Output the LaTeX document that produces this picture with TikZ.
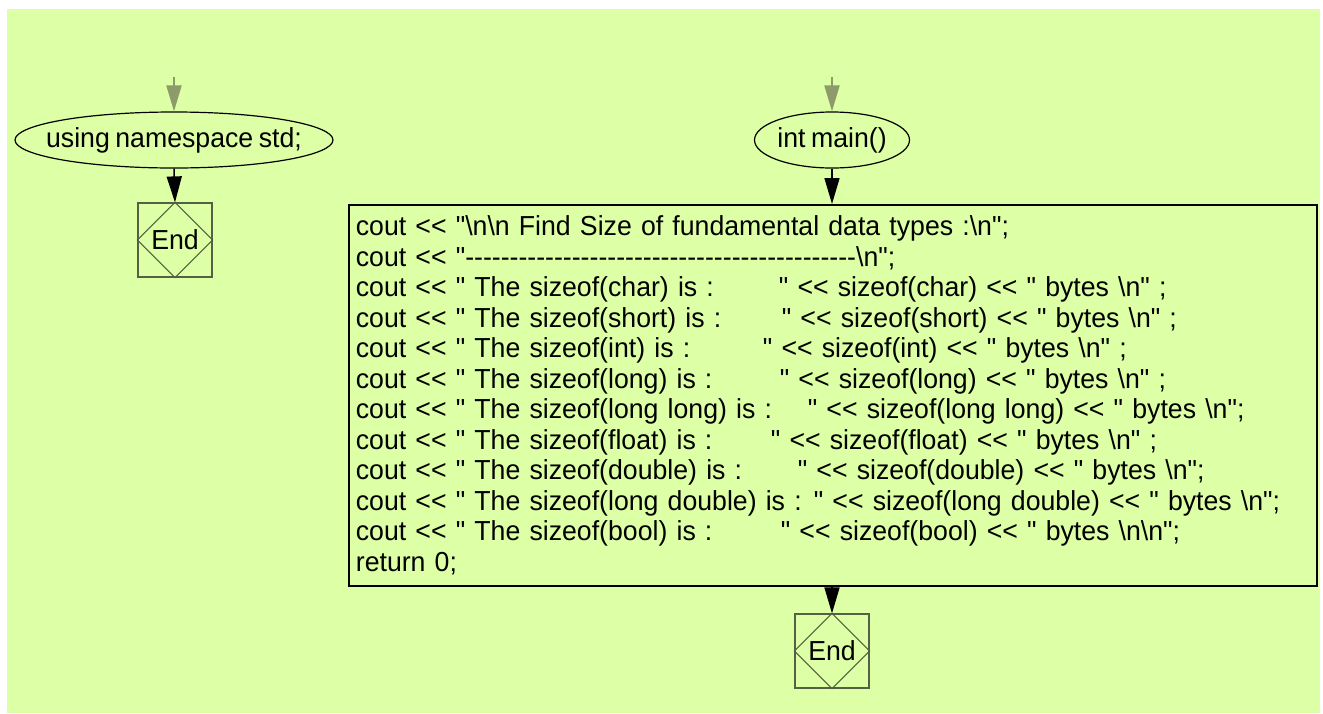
\documentclass[tikz,border=0pt]{standalone}
\usepackage{fontspec}
\newfontfamily\cf[FakeStretch=0.97,WordSpace=0.75]{Liberation Sans}
\usetikzlibrary{shapes.geometric,arrows.meta}
\definecolor{bg}{RGB}{221,255,165}
\definecolor{stub}{RGB}{140,155,105}
\definecolor{endcol}{RGB}{85,95,65}
\newcommand\cl[2]{\makebox[#1pt][l]{#2}}
\newcommand\bs{\textbackslash}
\tikzset{
  txt/.style={font=\cf\fontsize{27.5}{30.5}\selectfont},
  oval/.style={ellipse, draw=black, line width=1.2pt, inner sep=0pt, txt},
  endbox/.style={rectangle, draw=endcol, line width=1.2pt, minimum size=74pt, inner sep=0pt, txt},
  codebox/.style={rectangle, draw=black, line width=1.8pt, minimum width=968pt, minimum height=381pt, inner xsep=7pt, text width=954pt, align=left, anchor=north west, txt},
  flow/.style={draw=black, line width=1.5pt, -{Triangle[width=15pt,length=26pt]}},
  stubarrow/.style={draw=stub, line width=2pt, -{Triangle[width=15pt,length=26pt]}}
}
\begin{document}
\begin{tikzpicture}[x=1pt,y=-1pt]
\useasboundingbox (0,0) rectangle (1323,713);
\fill[bg] (7,9) rectangle (1320,713);

% left column
\coordinate (s1) at (174,77);
\node[oval, minimum width=318pt, minimum height=56pt] (ns) at (174,140) {\makebox[0pt]{using namespace std;}};
\node[endbox] (end1) at (175,240) {End};
\draw[endcol, line width=1pt] (end1.north) -- (end1.east) -- (end1.south) -- (end1.west) -- cycle;
\draw[stubarrow] (s1) -- (ns.north);
\draw[flow] (ns.south) -- (end1.north);

% right column
\coordinate (s2) at (832,77);
\node[oval, minimum width=155pt, minimum height=56pt] (main) at (832,140) {\makebox[0pt]{int main()}};
\node[codebox] (code) at (348,204) {%
cout << "\bs n\bs n Find Size of fundamental data types :\bs n";\\
cout << "--------------------------------------------\bs n";\\
\cl{423}{cout << " The sizeof(char) is :}" << sizeof(char) << " bytes \bs n" ;\\
\cl{426}{cout << " The sizeof(short) is :}" << sizeof(short) << " bytes \bs n" ;\\
\cl{407}{cout << " The sizeof(int) is :}" << sizeof(int) << " bytes \bs n" ;\\
\cl{424}{cout << " The sizeof(long) is :}" << sizeof(long) << " bytes \bs n" ;\\
\cl{452}{cout << " The sizeof(long long) is :}" << sizeof(long long) << " bytes \bs n";\\
\cl{415}{cout << " The sizeof(float) is :}" << sizeof(float) << " bytes \bs n" ;\\
\cl{442}{cout << " The sizeof(double) is :}" << sizeof(double) << " bytes \bs n";\\
\cl{458}{cout << " The sizeof(long double) is :}" << sizeof(long double) << " bytes \bs n";\\
\cl{425}{cout << " The sizeof(bool) is :}" << sizeof(bool) << " bytes \bs n\bs n";\\
return 0;};
\node[endbox] (end2) at (832,651) {End};
\draw[endcol, line width=1pt] (end2.north) -- (end2.east) -- (end2.south) -- (end2.west) -- cycle;
\draw[stubarrow] (s2) -- (main.north);
\draw[flow] (main.south) -- (main.south |- code.north);
\draw[flow] (code.south -| end2.north) -- (end2.north);
\end{tikzpicture}
\end{document}
